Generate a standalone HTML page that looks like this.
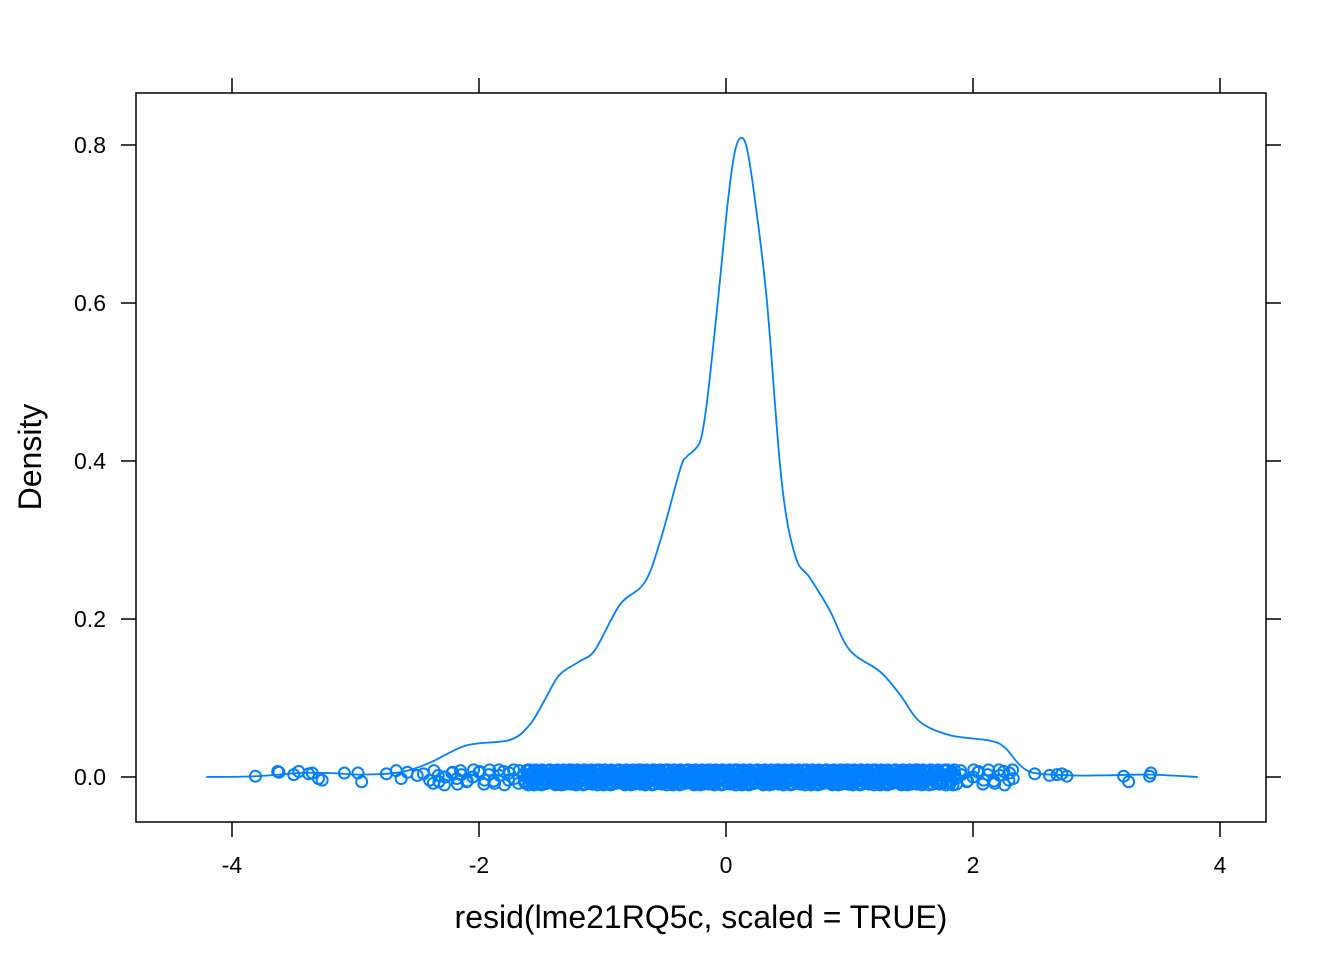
<!DOCTYPE html>
<html><head><meta charset="utf-8"><style>
body{margin:0;background:#fff}
svg text{font-family:"Liberation Sans",Arial,sans-serif;fill:#000}
</style></head><body>
<svg id="chart" width="1344" height="960" xmlns="http://www.w3.org/2000/svg"></svg>
<script>
const xTicks=[-4,-2,0,2,4];
const yTicks=[0,0.2,0.4,0.6,0.8];
const yTickLabels=["0.0","0.2","0.4","0.6","0.8"];
const densX=[-4.21,-3.81,-3.45,-3.2,-2.96,-2.64,-2.4,-2.1,-1.75,-1.59,-1.47,-1.35,-1.19,-1.06,-0.86,-0.66,-0.53,-0.37,-0.32,-0.25,-0.2,-0.15,-0.065,0.016,0.07,0.12,0.17,0.235,0.33,0.45,0.56,0.68,0.84,1.0,1.25,1.41,1.57,1.81,2.14,2.26,2.38,2.5,2.79,3.03,3.44,3.82];
const densY=[0.0,0.001,0.005,0.005,0.003,0.006,0.018,0.04,0.047,0.066,0.097,0.129,0.146,0.161,0.218,0.246,0.30,0.39,0.405,0.415,0.43,0.48,0.604,0.73,0.79,0.809,0.795,0.73,0.604,0.375,0.28,0.252,0.211,0.161,0.133,0.104,0.07,0.053,0.046,0.037,0.015,0.005,0.002,0.002,0.003,0.0];
const rugX=[-3.81,-3.63,-3.62,-3.5,-3.46,-3.38,-3.35,-3.3,-3.27,-3.09,-2.98,-2.95,-2.75,-2.67,-2.63,-2.58,-2.5,-2.45,-2.4,-2.37,-2.33,-2.28,-2.22,-2.18,-2.15,-2.1,-2.05,-2.0,-1.96,-1.92,-1.88,-1.84,-1.8,-1.76,-1.72,-1.68,-1.64,-1.6,-1.57,-1.53,-1.5,-1.46,-1.43,-1.39,-1.36,-1.32,-1.29,-1.25,-1.22,-1.18,-1.15,-1.11,-1.08,-1.04,-1.01,-0.97,-0.94,-0.9,-0.87,-0.83,-0.8,-0.76,-0.73,-0.69,-0.66,-0.62,-0.59,-0.55,-0.52,-0.48,-0.45,-0.41,-0.38,-0.34,-0.31,-0.27,-0.24,-0.2,-0.17,-0.13,-0.1,-0.06,-0.03,0.01,0.04,0.08,0.11,0.15,0.18,0.22,0.25,0.29,0.32,0.36,0.39,0.43,0.46,0.5,0.53,0.57,0.6,0.64,0.67,0.71,0.74,0.78,0.81,0.85,0.88,0.92,0.95,0.99,1.02,1.06,1.09,1.13,1.16,1.2,1.23,1.27,1.3,1.34,1.37,1.41,1.44,1.48,1.51,1.55,1.58,1.62,1.66,1.7,1.74,1.78,1.82,1.86,1.9,1.95,2.0,2.04,2.08,2.12,2.17,2.21,2.25,2.29,2.32,2.5,2.62,2.68,2.72,2.76,3.22,3.26,3.43,3.44];
const rugJitter=[0.007,-0.004,0.009,-0.008,0.002,-0.01,0.005,-0.002,0.008,-0.006,0.0,0.006,-0.009,0.003,-0.005,0.009];
const outJitter=[0.001,0.007,0.006,0.003,0.007,0.004,0.005,-0.002,-0.004,0.005,0.005,-0.006,0.004,0.008,-0.002,0.006,0.002,0.004,-0.004];
const rightJitter=[0.004,0.002,0.003,0.004,0.001,0.001,-0.006,0.001,0.005];
const NS="http://www.w3.org/2000/svg",svg=document.getElementById('chart');
const X=v=>726+v*123.5, Y=v=>777-v*790;
const L=136,R=1266,T=93,B=822,col="#0080ff";
function el(t,a,p){const e=document.createElementNS(NS,t);for(const k in a)e.setAttribute(k,a[k]);(p||svg).appendChild(e);return e;}
const frame=el('rect',{x:L,y:T,width:R-L,height:B-T,fill:'none',stroke:'#000','stroke-width':1.5});


xTicks.forEach(v=>{const x=X(v);
 const t1=el('line',{x1:x,x2:x,y1:B,y2:B+15,stroke:'#000','stroke-width':1.5});
 
 
 const t2=el('line',{x1:x,x2:x,y1:T,y2:T-15,stroke:'#000','stroke-width':1.5});
 
 
 const tx=el('text',{x:x,y:873,'font-size':23,'text-anchor':'middle'});tx.textContent=String(v);
 
 
});
yTicks.forEach((v,i)=>{const y=Y(v);
 const t1=el('line',{x1:L,x2:L-15,y1:y,y2:y,stroke:'#000','stroke-width':1.5});
 
 
 const t2=el('line',{x1:R,x2:R+15,y1:y,y2:y,stroke:'#000','stroke-width':1.5});
 
 
 const tx=el('text',{x:106,y:y+8,'font-size':23,'text-anchor':'end'});tx.textContent=yTickLabels[i];
 
 
});
const xt=el('text',{x:701,y:928,'font-size':32,'text-anchor':'middle'});xt.textContent='resid(lme21RQ5c, scaled = TRUE)';


const yt=el('text',{x:0,y:0,'font-size':32,'text-anchor':'middle',transform:'translate(41,457) rotate(-90)'});yt.textContent='Density';


const P=densX.map((v,i)=>[X(v),Y(densY[i])]);
let d='M'+P[0][0].toFixed(1)+','+P[0][1].toFixed(1);
for(let i=0;i<P.length-1;i++){
 const p0=P[Math.max(0,i-1)],p1=P[i],p2=P[i+1],p3=P[Math.min(P.length-1,i+2)];
 const c1=[p1[0]+(p2[0]-p0[0])/6,p1[1]+(p2[1]-p0[1])/6],c2=[p2[0]-(p3[0]-p1[0])/6,p2[1]-(p3[1]-p1[1])/6];
 d+=' C'+c1.map(n=>n.toFixed(1)).join(',')+' '+c2.map(n=>n.toFixed(1)).join(',')+' '+p2.map(n=>n.toFixed(1)).join(',');
}
const line=el('path',{d:d,fill:'none',stroke:col,'stroke-width':1.8,'stroke-linejoin':'round'});


const g=el('g',{});


const nOut=outJitter.length, nRight=rightJitter.length;
rugX.forEach((v,i)=>{
 let j;
 if(i<nOut) j=outJitter[i]; else if(i>=rugX.length-nRight) j=rightJitter[i-(rugX.length-nRight)];
 else j=rugJitter[i%rugJitter.length];
 const mid=i>=nOut&&i<rugX.length-nRight;
 const reps=mid?(Math.abs(v-0.1)<1.75?7:2):1;
 for(let r=0;r<reps;r++){
  const jj=r===0?j:rugJitter[(i+r*5)%rugJitter.length];
  const c=el('circle',{cx:X(v+r*0.006),cy:Y(jj),r:5.5,fill:'none',stroke:col,'stroke-width':2},g);
  
  
 }
});
</script>
</body></html>
